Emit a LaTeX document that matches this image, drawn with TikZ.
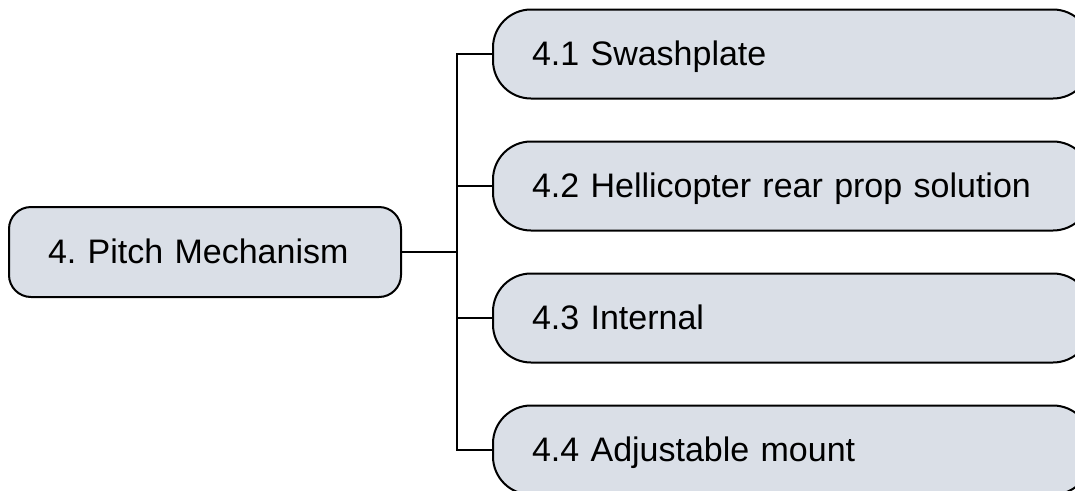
\documentclass[tikz,border=0pt]{standalone}
\usepackage{fontspec}
\setmainfont{Liberation Sans}
\frenchspacing
\definecolor{boxfill}{RGB}{218,223,231}
\tikzset{
  box/.style={draw=black, line width=2pt, fill=boxfill, rounded corners=#1,
    inner ysep=0pt, text height=25pt, text depth=3pt, align=left,
    font=\fontsize{34}{40}\selectfont},
  topic/.style={box=22pt, anchor=west, minimum width=392pt, minimum height=90pt,
    text width=314pt, inner xsep=39pt},
  sub/.style={box=38pt, anchor=west, minimum width=598pt, minimum height=89pt,
    text width=520pt, inner xsep=39pt},
  conn/.style={draw=black, line width=1.5pt}
}
\begin{document}
\begin{tikzpicture}[x=1pt, y=-1pt]
  \useasboundingbox (0,0) rectangle (1075,490);
  \clip (0,0) rectangle (1075,490);
  % main topic
  \node[topic] (main) at (8,252) {4. Pitch Mechanism};
  % sub-topics
  \node[sub] (s1) at (492,54)  {4.1 Swashplate};
  \node[sub] (s2) at (492,186) {4.2 Hellicopter rear prop solution};
  \node[sub] (s3) at (492,318) {4.3 Internal};
  \node[sub] (s4) at (492,450) {4.4 Adjustable mount};
  % connectors
  \coordinate (trunk) at (457,0);
  \draw[conn] (main.east) -- (main.east -| trunk);
  \draw[conn] (s1.west) -- (s1.west -| trunk) -- (s4.west -| trunk) -- (s4.west);
  \draw[conn] (s2.west -| trunk) -- (s2.west);
  \draw[conn] (s3.west -| trunk) -- (s3.west);
\end{tikzpicture}
\end{document}
